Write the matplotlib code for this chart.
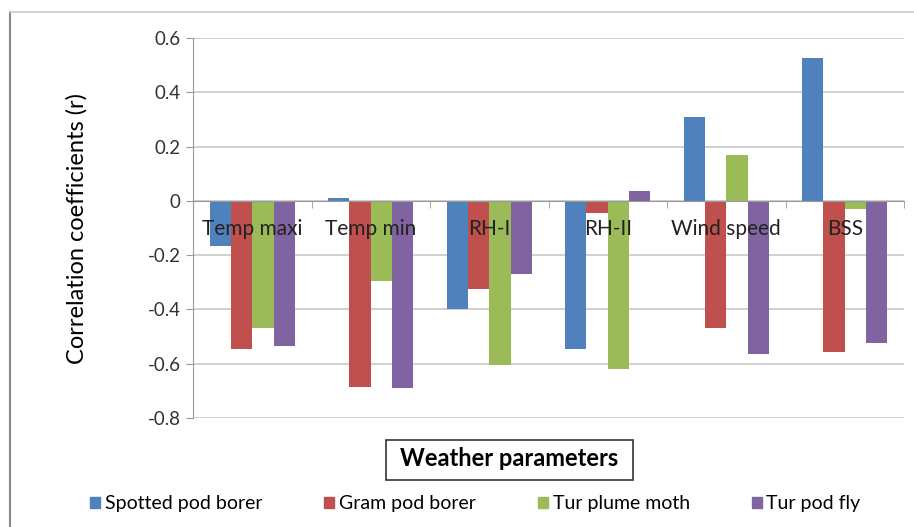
import numpy as np
import matplotlib.pyplot as plt
from matplotlib.patches import Rectangle
from matplotlib.lines import Line2D

plt.rcParams['font.family'] = ['Lato', 'DejaVu Sans']

params = ["Temp maxi", "Temp min", "RH-I", "RH-II", "Wind speed", "BSS"]
pests = ["Spotted pod borer", "Gram pod borer", "Tur plume moth", "Tur pod fly"]
spotted = [-0.165, 0.01, -0.40, -0.545, 0.31, 0.525]
gram = [-0.545, -0.685, -0.325, -0.045, -0.467, -0.555]
plume = [-0.467, -0.294, -0.605, -0.62, 0.17, -0.03]
podfly = [-0.533, -0.688, -0.268, 0.035, -0.563, -0.522]
colors = ["#4F81BD", "#C0504D", "#9BBB59", "#8064A2"]

fig = plt.figure(figsize=(9.14, 5.27), dpi=100)
ax = fig.add_axes([193/914, 1-418/527, (904-193)/914, (418-38)/527])

x = np.arange(len(params))
w = 0.18
for i, (vals, c) in enumerate(zip([spotted, gram, plume, podfly], colors)):
    ax.bar(x + (i - 1.5)*w, vals, w, color=c, zorder=3)

ax.set_xlim(-0.5, len(params) - 0.5)
ax.set_ylim(-0.8, 0.6)
yt = np.arange(-0.8, 0.61, 0.2)
ax.set_yticks(yt)
ax.set_yticklabels(["%.1f" % v if abs(v) > 1e-9 else "0" for v in yt])
ax.yaxis.grid(True, color="#c8c8c8", lw=1.2, zorder=0)
ax.tick_params(axis="y", length=5, color="#999999", labelsize=13.5, labelcolor="#333333", pad=4)

ax.spines["bottom"].set_position(("data", 0))
ax.spines["bottom"].set_color("#999999")
ax.spines["bottom"].set_zorder(4)
ax.spines["left"].set_color("#999999")
ax.spines["top"].set_visible(False)
ax.spines["right"].set_visible(False)
ax.set_xticks(x)
ax.set_xticklabels([])
ax.set_xticks(np.arange(-0.5, len(params)), minor=True)
ax.tick_params(axis="x", which="major", length=0)
ax.tick_params(axis="x", which="minor", length=5, color="#999999", direction="out")
# category names sit over the bars, just below the zero line
for xi, name in zip(x, params):
    ax.text(xi, -0.103, name, ha="center", va="center", fontsize=15,
            color="#222222", zorder=10)

ax.set_ylabel("Correlation coefficients (r)", fontsize=17)
ax.yaxis.set_label_coords(-0.148, 0.5)

fig.text(509/914, 1-459/527, "Weather parameters", ha="center", va="center",
         fontsize=17, fontweight="bold")
fig.patches.append(Rectangle((386/914, 1-480/527), (633-386)/914, 40/527,
                             transform=fig.transFigure, fill=False, ec="#333333", lw=1.2))

# outer frame
fig.add_artist(Line2D([10/914, 10/914], [0, 1-12/527], transform=fig.transFigure, color="#888888", lw=1.5))
fig.add_artist(Line2D([10/914, 1], [1-12/527, 1-12/527], transform=fig.transFigure, color="#cccccc", lw=1.2))

handles = [Rectangle((0, 0), 1, 1, color=c) for c in colors]
fig.legend(handles, pests, loc="center", bbox_to_anchor=(0.52, 1-504/527), ncol=4,
           frameon=False, fontsize=14, handlelength=0.5, handleheight=0.5,
           handletextpad=0.25, columnspacing=3.2)

fig.savefig("out.png", dpi=100)
